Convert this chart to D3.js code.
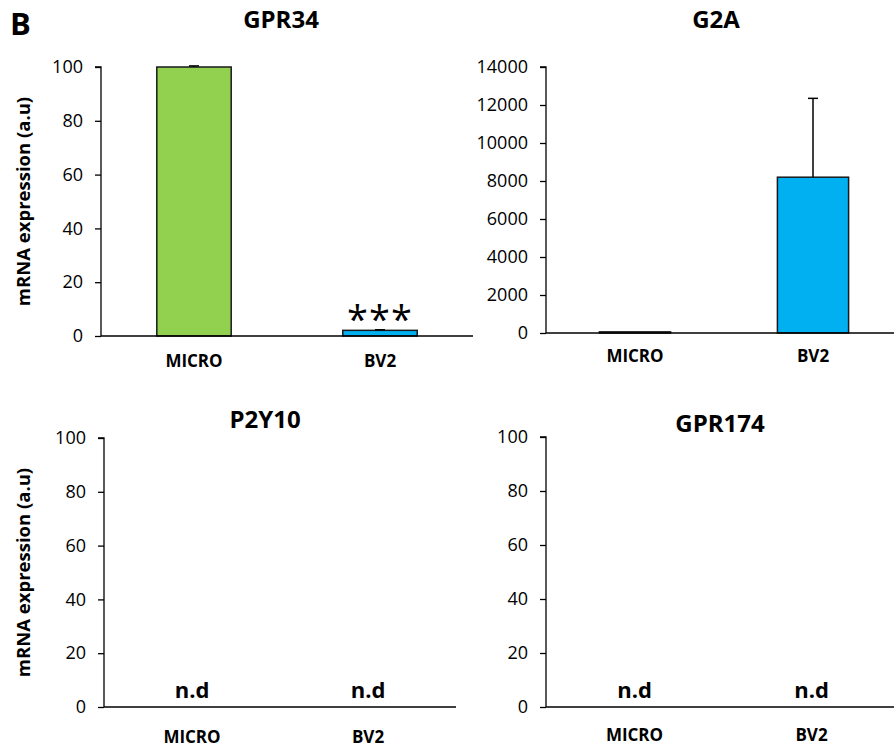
<!DOCTYPE html>
<html><head><meta charset="utf-8">
<script src="https://cdn.jsdelivr.net/npm/d3@7"></script>
<style>
body{margin:0;background:#fff;}
text{font-family:"Open Sans",sans-serif;fill:#000;}
</style></head>
<body><svg id="c" width="894" height="747"></svg>
<script>
// ---- data ----
const categories = ["MICRO", "BV2"];
const titles = ["GPR34", "G2A", "P2Y10", "GPR174"];
const colors = ["#92D050", "#00B0F0"];
const gpr34Values = [100, 2.1];
const gpr34Errors = [0.4, 0.2];
const g2aValues = [60, 8200];
const g2aErrors = [0, 4150];
const p2y10Values = [null, null];   // not detected
const gpr174Values = [null, null];  // not detected
const ticks100 = [0, 20, 40, 60, 80, 100];
const ticks14000 = [0, 2000, 4000, 6000, 8000, 10000, 12000, 14000];
const yLabel = "mRNA expression (a.u)";
const panelLetter = "B";
const sigLabels = ["", "***"];

// ---- layout ----
const panels = [
  {title: titles[0], values: gpr34Values, errors: gpr34Errors, ticks: ticks100, max: 100,
   L: 101, R: 473, T: 67, B: 336, titleX: 281, titleY: 28, xLabOff: 32, sig: sigLabels, ylab: true},
  {title: titles[1], values: g2aValues, errors: g2aErrors, ticks: ticks14000, max: 14000,
   L: 546, R: 902, T: 67, B: 333, titleX: 716, titleY: 28, xLabOff: 30},
  {title: titles[2], values: p2y10Values, errors: null, ticks: ticks100, max: 100,
   L: 104, R: 456, T: 438, B: 707, titleX: 265, titleY: 428, xLabOff: 37, ylab: true},
  {title: titles[3], values: gpr174Values, errors: null, ticks: ticks100, max: 100,
   L: 546, R: 900, T: 437, B: 707, titleX: 720, titleY: 432, xLabOff: 35}
];

const svg = d3.select("#c");
svg.append("text").attr("x", 10).attr("y", 35).attr("font-size", 31)
  .attr("font-weight", 700).text(panelLetter);

panels.forEach(p => {
  const g = svg.append("g");
  const x = d3.scaleBand().domain(categories).range([p.L, p.R]).paddingInner(0.6).paddingOuter(0.3);
  const y = d3.scaleLinear().domain([0, p.max]).range([p.B, p.T]);

  // y axis
  const ya = g.append("g").attr("transform", `translate(${p.L},0)`)
    .call(d3.axisLeft(y).tickValues(p.ticks).tickSize(6).tickPadding(12).tickFormat(d3.format("d")));
  ya.select(".domain").attr("d", `M-6,${y(p.max)}H0V${y(0)}`).attr("stroke", "#000").attr("stroke-width", 1.3);
  ya.selectAll(".tick line").attr("stroke", "#000").attr("stroke-width", 1.3);
  ya.selectAll(".tick text").attr("font-size", 18).attr("font-family", "Open Sans").attr("fill", "#000");

  // bars
  p.values.forEach((v, i) => {
    if (v === null) return;
    const bx = x(categories[i]);
    g.append("rect").attr("x", bx).attr("y", y(v)).attr("width", x.bandwidth())
      .attr("height", Math.max(0, y(0) - y(v))).attr("fill", colors[i])
      .attr("stroke", "#1a1a1a").attr("stroke-width", 1.5);
    if (p.errors && p.errors[i] > 0) {
      const cx = bx + x.bandwidth() / 2;
      const top = y(v + p.errors[i]);
      g.append("line").attr("x1", cx).attr("x2", cx).attr("y1", y(v)).attr("y2", top)
        .attr("stroke", "#000").attr("stroke-width", 1.5);
      g.append("line").attr("x1", cx - 5).attr("x2", cx + 5).attr("y1", top).attr("y2", top)
        .attr("stroke", "#000").attr("stroke-width", 1.5);
    }
  });

  // x axis
  const xa = g.append("g").attr("transform", `translate(0,${p.B})`)
    .call(d3.axisBottom(x).tickSize(0).tickPadding(p.xLabOff - 13));
  xa.select(".domain").attr("d", `M${p.L},0H${p.R}`).attr("stroke", "#000").attr("stroke-width", 1.3);
  xa.selectAll(".tick text").attr("font-size", 17).attr("font-weight", 700)
    .attr("font-family", "Open Sans").attr("fill", "#000");

  // n.d labels
  p.values.forEach((v, i) => {
    if (v !== null) return;
    g.append("text").attr("x", x(categories[i]) + x.bandwidth() / 2).attr("y", p.B - 9)
      .attr("text-anchor", "middle").attr("font-size", 22).attr("font-weight", 700).text("n.d");
  });

  // significance
  if (p.sig) p.sig.forEach((s, i) => {
    if (!s) return;
    const v = p.values[i] + (p.errors ? p.errors[i] : 0);
    g.append("text").attr("x", x(categories[i]) + x.bandwidth() / 2).attr("y", y(v) + 3)
      .attr("text-anchor", "middle").attr("font-size", 38).attr("letter-spacing", 1).text(s);
  });

  // title
  g.append("text").attr("x", p.titleX).attr("y", p.titleY).attr("text-anchor", "middle")
    .attr("font-size", 24).attr("font-weight", 700).text(p.title);

  // y label
  if (p.ylab) {
    const cy = (p.T + p.B) / 2;
    g.append("text").attr("transform", `translate(30,${cy}) rotate(-90)`).attr("text-anchor", "middle")
      .attr("font-size", 18.5).attr("font-weight", 700).text(yLabel);
  }
});
</script></body></html>
